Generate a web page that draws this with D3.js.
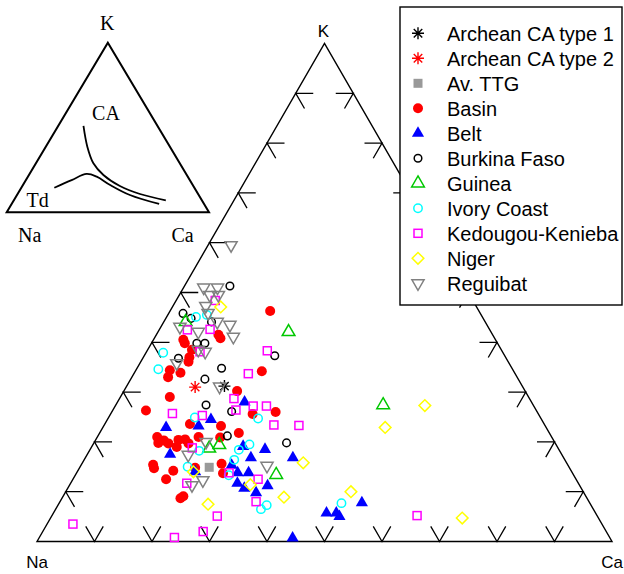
<!DOCTYPE html>
<html>
<head>
<meta charset="utf-8">
<script src="https://cdn.jsdelivr.net/npm/d3@7"></script>
<style>
  body { margin: 0; background: #fff; }
  svg { display: block; }
</style>
</head>
<body>
<svg id="chart" width="624" height="574"></svg>
<script>
// Compositions as [Na, K, Ca] percentages
const archeanCA1 = [[51.8, 31.2, 17.0]];
const archeanCA2 = [[57.0, 31.0, 12.0]];
const avTTG = [[62.6, 14.9, 22.5]];
const basin = [
  [36.3, 46.3, 17.4], [47.7, 41.5, 10.8], [47.7, 40.8, 11.5], [54.3, 40.5, 5.2],
  [54.4, 39.8, 5.8], [53.8, 38.5, 7.7], [55.0, 37.0, 8.0], [55.6, 36.1, 8.3],
  [59.7, 34.4, 5.9], [60.7, 33.0, 6.3], [58.1, 33.9, 8.0], [43.8, 34.2, 22.0],
  [50.1, 30.2, 19.7], [62.4, 29.0, 8.6], [67.9, 26.3, 5.8], [49.7, 25.6, 24.7],
  [45.5, 26.0, 28.5], [61.6, 23.6, 14.8], [56.4, 23.2, 20.4], [54.0, 21.8, 24.2],
  [69.0, 19.8, 11.2], [67.3, 19.7, 13.0], [65.2, 20.4, 14.4], [64.0, 20.5, 15.5],
  [63.8, 19.7, 16.5], [61.4, 21.0, 17.6], [66.2, 19.0, 14.8], [57.7, 20.9, 21.4],
  [72.1, 15.4, 12.5], [72.3, 14.7, 13.0], [69.2, 14.2, 16.6], [71.3, 12.5, 16.2],
  [60.1, 15.6, 24.3], [60.8, 13.7, 25.5], [70.0, 9.1, 20.9], [70.7, 8.7, 20.6],
  [67.8, 20.3, 11.9], [65.1, 14.8, 20.1], [68.6, 21.0, 10.4]
];
const belt = [
  [66.1, 22.9, 11.0], [60.3, 23.2, 16.5], [57.5, 24.5, 18.0], [49.9, 28.0, 22.1],
  [68.1, 17.5, 14.4], [65.5, 14.0, 20.5], [54.6, 19.1, 26.3], [51.1, 18.5, 30.4],
  [54.4, 16.8, 28.8], [47.1, 16.8, 36.1], [58.5, 15.3, 26.2], [58.2, 13.8, 28.0],
  [56.3, 13.8, 29.9], [59.3, 11.7, 29.0], [54.3, 11.2, 34.5], [57.0, 9.8, 33.2],
  [46.8, 5.7, 47.5], [45.1, 5.7, 49.2], [44.9, 5.0, 50.1], [39.6, 7.8, 52.6],
  [55.2, 0.7, 44.1], [58.6, 10.7, 30.7]
];
const burkinaFaso = [
  [40.8, 51.3, 7.9], [51.7, 45.8, 2.5], [50.8, 44.8, 4.4], [47.6, 44.1, 8.3],
  [52.3, 39.8, 7.9], [50.9, 39.8, 9.3], [57.0, 36.8, 6.2], [50.5, 34.8, 14.7],
  [40.0, 37.3, 22.7], [54.5, 32.6, 12.9], [56.9, 27.4, 15.7], [53.1, 26.1, 20.8],
  [56.3, 21.2, 22.5], [46.7, 19.8, 33.5]
];
const guinea = [
  [52.1, 44.1, 3.8], [35.2, 42.1, 22.7], [60.7, 18.7, 20.6], [58.6, 19.4, 22.0],
  [51.7, 13.4, 34.9], [26.1, 27.4, 46.5]
];
const ivoryCoast = [
  [49.8, 45.1, 5.1], [47.7, 45.5, 6.8], [59.1, 37.9, 3.0], [61.6, 34.6, 3.8],
  [60.1, 24.9, 15.0], [49.2, 24.7, 26.1], [62.7, 18.2, 19.1], [66.3, 15.0, 18.7],
  [53.3, 19.5, 27.2], [55.7, 18.4, 25.9], [57.5, 16.4, 26.1], [60.0, 13.3, 26.7],
  [57.8, 6.5, 35.7], [56.4, 7.3, 36.3], [43.2, 7.7, 49.1]
];
const kedougouKenieba = [
  [44.8, 48.4, 6.8], [52.6, 42.5, 4.9], [48.6, 42.6, 8.8], [52.6, 38.1, 9.3],
  [46.4, 33.7, 19.9], [40.8, 38.3, 20.9], [51.4, 28.7, 19.9], [48.8, 27.2, 24.0],
  [46.5, 27.2, 26.3], [52.2, 26.4, 21.4], [63.6, 25.7, 10.7], [58.6, 25.3, 16.1],
  [47.1, 23.4, 29.5], [42.8, 23.3, 33.9], [63.6, 18.8, 17.6], [68.1, 11.7, 20.2],
  [55.3, 12.5, 32.2], [57.9, 8.0, 34.1], [66.1, 5.1, 28.8], [70.1, 2.0, 27.9],
  [75.7, 0.8, 23.5], [31.3, 5.2, 63.5], [92.0, 3.5, 4.5], [59.7, 13.8, 26.5]
];
const niger = [
  [44.5, 47.1, 8.4], [65.8, 14.0, 20.2], [57.2, 11.4, 31.4], [45.8, 15.8, 38.4],
  [52.6, 8.9, 38.5], [66.5, 7.5, 26.0], [40.4, 10.0, 49.6], [18.9, 27.3, 53.8],
  [28.0, 22.9, 49.1], [23.7, 4.7, 71.6]
];
const reguibat = [
  [45.5, 51.0, 3.5], [43.1, 51.0, 5.9], [45.2, 49.5, 5.3], [43.7, 49.5, 6.8],
  [47.0, 47.3, 5.7], [47.3, 45.9, 6.8], [46.6, 44.1, 9.3], [44.7, 43.5, 11.8],
  [45.3, 41.1, 13.6], [53.6, 43.1, 3.3], [50.9, 42.1, 7.0], [52.7, 38.5, 8.8],
  [51.7, 38.1, 10.2], [57.8, 35.8, 6.4], [52.7, 31.1, 16.2], [36.5, 59.5, 4.0],
  [60.6, 20.0, 19.4], [65.0, 17.4, 17.6], [67.4, 11.3, 21.3], [65.0, 12.3, 22.7],
  [52.4, 15.2, 32.4]
];

// Schematic trends for the small key diagram, [Na, K, Ca]
const trendCA = [
  [36.6, 50.9, 12.5], [40.8, 38.7, 20.5], [42.7, 28.9, 28.4], [41.2, 22.0, 36.8],
  [36.3, 15.5, 48.2], [28.7, 10.8, 60.5], [17.8, 7.1, 75.1]
];
const trendTd = [
  [69.2, 14.5, 16.3], [58.4, 19.0, 22.6], [49.2, 22.6, 28.2], [45.0, 21.0, 34.0],
  [40.8, 16.1, 43.1], [34.0, 10.2, 55.8], [22.2, 4.9, 72.9]
];

const tickValues = [10, 20, 30, 40, 50, 60, 70, 80, 90];
const apexLabels = ["Na", "K", "Ca"];

const series = [
  { name: "Archean CA type 1", data: archeanCA1, kind: "asterisk", color: "#000000" },
  { name: "Archean CA type 2", data: archeanCA2, kind: "asterisk", color: "#ff0000" },
  { name: "Av. TTG", data: avTTG, kind: "filledSquare", color: "#999999" },
  { name: "Basin", data: basin, kind: "dot", color: "#ff0000" },
  { name: "Belt", data: belt, kind: "filledTriangle", color: "#0000ff" },
  { name: "Burkina Faso", data: burkinaFaso, kind: "ring", color: "#000000" },
  { name: "Guinea", data: guinea, kind: "openTriangle", color: "#00c800" },
  { name: "Ivory Coast", data: ivoryCoast, kind: "ringLarge", color: "#00ffff" },
  { name: "Kedougou-Kenieba", data: kedougouKenieba, kind: "openSquare", color: "#ff00ff" },
  { name: "Niger", data: niger, kind: "diamond", color: "#ffff00" },
  { name: "Reguibat", data: reguibat, kind: "invTriangle", color: "#808080" }
];

const svg = d3.select("#chart");
const sans = "'Liberation Sans', Arial, Helvetica, sans-serif";
const serif = "'Liberation Serif', 'Times New Roman', serif";

// Main ternary frame: Na bottom-left, Ca bottom-right, K at the top
const mx = d3.scaleLinear().domain([0, 100]).range([37, 612]);
const my = d3.scaleLinear().domain([0, 100]).range([541.5, 43.5]);
function project(d, sx, sy) {
  const s = d[0] + d[1] + d[2];
  const k = d[1] / s * 100, ca = d[2] / s * 100;
  return [sx(ca + k / 2), sy(k)];
}
const pMain = d => project(d, mx, my);

const frame = svg.append("g");
frame.append("path")
  .attr("d", d3.line()([pMain([100, 0, 0]), pMain([0, 100, 0]), pMain([0, 0, 100])]) + "Z")
  .attr("fill", "none").attr("stroke", "#000").attr("stroke-width", 1.4)
  .attr("stroke-linejoin", "miter");

// Tick marks every 10%: each is a pair of short strokes parallel to the other sides
const L = 17.5;
const s30 = Math.sin(Math.PI / 6), c30 = Math.cos(Math.PI / 6);
const tickPaths = [];
tickValues.forEach(v => {
  const b = pMain([100 - v, 0, v]);
  tickPaths.push([[b[0] - L * s30, b[1] - L * c30], b, [b[0] + L * s30, b[1] - L * c30]]);
  const l = pMain([100 - v, v, 0]);
  tickPaths.push([[l[0] + L, l[1]], l, [l[0] + L * s30, l[1] + L * c30]]);
  const r = pMain([0, v, 100 - v]);
  tickPaths.push([[r[0] - L, r[1]], r, [r[0] - L * s30, r[1] + L * c30]]);
});
frame.selectAll("path.tick").data(tickPaths).join("path")
  .attr("class", "tick")
  .attr("d", d => d3.line()(d))
  .attr("fill", "none").attr("stroke", "#000").attr("stroke-width", 1.3);

// Apex labels
const apexPos = [pMain([100, 0, 0]), pMain([0, 100, 0]), pMain([0, 0, 100])];
frame.selectAll("text.apex").data(apexLabels).join("text")
  .attr("class", "apex")
  .attr("x", (d, i) => apexPos[i][0] + (i === 1 ? -1 : 0))
  .attr("y", (d, i) => i === 1 ? apexPos[i][1] - 7 : apexPos[i][1] + 26)
  .attr("text-anchor", "middle")
  .attr("font-family", sans).attr("font-size", 17)
  .text(d => d);

// Marker drawing
function drawMarker(g, kind, color) {
  const sw = 1.5;
  switch (kind) {
    case "asterisk": {
      const r = 6;
      const a = r * Math.SQRT1_2;
      g.append("path")
        .attr("d", `M${-r},0L${r},0M0,${-r}L0,${r}M${-a},${-a}L${a},${a}M${-a},${a}L${a},${-a}`)
        .attr("stroke", color).attr("stroke-width", 1.4).attr("fill", "none");
      break;
    }
    case "filledSquare":
      g.append("rect").attr("x", -4.5).attr("y", -4.5).attr("width", 9).attr("height", 9)
        .attr("fill", color);
      break;
    case "dot":
      g.append("circle").attr("r", 5).attr("fill", color);
      break;
    case "filledTriangle":
      g.append("path").attr("d", d3.symbol(d3.symbolTriangle, 64)()).attr("fill", color);
      break;
    case "ring":
      g.append("circle").attr("r", 3.8).attr("fill", "none")
        .attr("stroke", color).attr("stroke-width", sw);
      break;
    case "ringLarge":
      g.append("circle").attr("r", 4.2).attr("fill", "none")
        .attr("stroke", color).attr("stroke-width", sw);
      break;
    case "openTriangle":
      g.append("path").attr("d", d3.symbol(d3.symbolTriangle, 70)()).attr("fill", "none")
        .attr("stroke", color).attr("stroke-width", sw);
      break;
    case "openSquare":
      g.append("rect").attr("x", -4).attr("y", -4).attr("width", 8).attr("height", 8)
        .attr("fill", "none").attr("stroke", color).attr("stroke-width", sw);
      break;
    case "diamond":
      g.append("path").attr("d", d3.symbol(d3.symbolSquare, 68)())
        .attr("transform", "rotate(45)")
        .attr("fill", "none").attr("stroke", color).attr("stroke-width", sw);
      break;
    case "invTriangle":
      g.append("path").attr("d", d3.symbol(d3.symbolTriangle, 64)())
        .attr("transform", "rotate(180)")
        .attr("fill", "none").attr("stroke", color).attr("stroke-width", sw);
      break;
  }
}

// Data points
const plot = svg.append("g");
series.forEach(s => {
  const grp = plot.append("g").attr("class", "series");
  grp.selectAll("g").data(s.data).join("g")
    .attr("transform", d => { const p = pMain(d); return `translate(${p[0]},${p[1]})`; })
    .each(function () { drawMarker(d3.select(this), s.kind, s.color); });
});

// Legend
const legend = svg.append("g");
legend.append("rect").attr("x", 400).attr("y", 7).attr("width", 222).attr("height", 298)
  .attr("fill", "#fff").attr("stroke", "#000").attr("stroke-width", 1.4);
const rowY = d3.scaleLinear().domain([0, 1]).range([33.3, 58.3]);
series.forEach((s, i) => {
  const g = legend.append("g").attr("transform", `translate(418,${rowY(i)})`);
  drawMarker(g, s.kind, s.color);
  legend.append("text")
    .attr("x", 447).attr("y", rowY(i)).attr("dy", "0.36em")
    .attr("font-family", sans).attr("font-size", 20)
    .text(s.name);
});

// Small key diagram with the calc-alkaline and trondhjemitic trends
const ix = d3.scaleLinear().domain([0, 100]).range([6.7, 209]);
const iy = d3.scaleLinear().domain([0, 100]).range([212.3, 42.7]);
const pInset = d => project(d, ix, iy);
const inset = svg.append("g");
inset.append("path")
  .attr("d", d3.line()([pInset([100, 0, 0]), pInset([0, 100, 0]), pInset([0, 0, 100])]) + "Z")
  .attr("fill", "none").attr("stroke", "#000").attr("stroke-width", 2);
const trendLine = d3.line().curve(d3.curveCatmullRom.alpha(0.5));
[trendCA, trendTd].forEach(t => {
  inset.append("path").attr("d", trendLine(t.map(pInset)))
    .attr("fill", "none").attr("stroke", "#000").attr("stroke-width", 1.8);
});
const insetLabels = [
  { t: "K", x: 107.3, y: 30, a: "middle" },
  { t: "CA", x: 106, y: 119.5, a: "middle" },
  { t: "Td", x: 26.5, y: 207, a: "start" },
  { t: "Na", x: 18, y: 242, a: "start" },
  { t: "Ca", x: 171.5, y: 242, a: "start" }
];
inset.selectAll("text").data(insetLabels).join("text")
  .attr("x", d => d.x).attr("y", d => d.y).attr("text-anchor", d => d.a)
  .attr("font-family", serif).attr("font-size", 20)
  .text(d => d.t);
</script>
</body>
</html>
